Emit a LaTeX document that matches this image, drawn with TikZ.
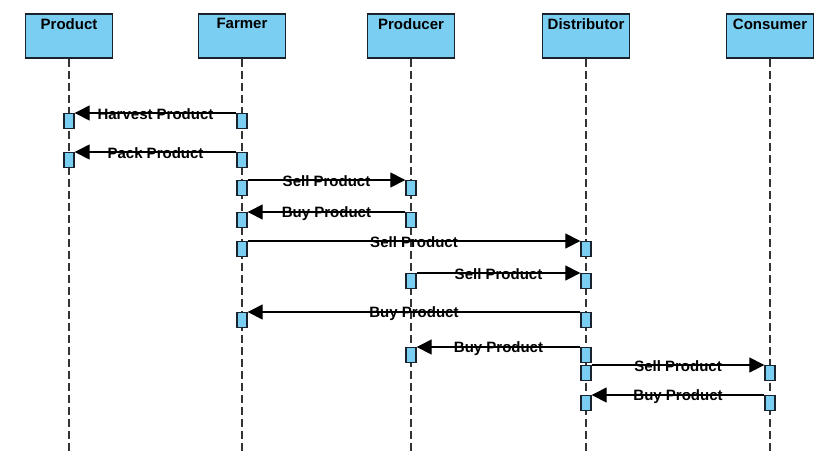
\documentclass[tikz,border=0pt]{standalone}
\usepackage{fontspec}
\setmainfont{Liberation Sans}
\usepackage{xcolor}
\usetikzlibrary{arrows.meta, positioning, calc}

\definecolor{boxblue}{RGB}{122,206,242}
\definecolor{boxline}{RGB}{25,35,45}

\begin{document}
\begin{tikzpicture}[
    x=1pt, y=-1pt,
    head/.style={rectangle, draw=boxline, line width=1.5pt, fill=boxblue, minimum width=87pt, minimum height=44pt, anchor=north, inner sep=0pt},
    headtxt/.style={anchor=north, yshift=-2pt, font=\fontsize{15}{17}\selectfont\bfseries},
    life/.style={dash pattern=on 8pt off 4pt, line width=1.3pt, draw=black!80},
    act/.style={rectangle, draw=boxline, line width=1.3pt, fill=boxblue, minimum width=10pt, minimum height=15pt, anchor=north, inner sep=0pt},
    msg/.style={-{Triangle[length=15pt, width=15pt]}, line width=1.1pt},
    lbl/.style={midway, yshift=-1.5pt, font=\fontsize{15}{17}\selectfont\bfseries, inner sep=0pt}
]
    \useasboundingbox (0,0) rectangle (837,464);

    % lifeline heads
    \node[head, label={[headtxt]north:Product}] (prod) at (69,13) {};
    \node[head, label={[headtxt]north:Farmer}] (farm) at (242,13) {};
    \node[head, label={[headtxt]north:Producer}] (pdcr) at (411,13) {};
    \node[head, label={[headtxt]north:Distributor}] (dist) at (586,13) {};
    \node[head, label={[headtxt]north:Consumer}] (cons) at (770,13) {};

    % lifelines
    \coordinate (prodend) at (69,453);
    \coordinate (farmend) at (242,453);
    \coordinate (pdcrend) at (411,453);
    \coordinate (distend) at (586,453);
    \coordinate (consend) at (770,453);
    \draw[life] (prod.south) -- (prodend);
    \draw[life] (farm.south) -- (farmend);
    \draw[life] (pdcr.south) -- (pdcrend);
    \draw[life] (dist.south) -- (distend);
    \draw[life] (cons.south) -- (consend);

    % activations
    \node[act] (f1) at (242,113) {};
    \node[act] (p1) at (69,113) {};
    \node[act] (f2) at (242,152) {};
    \node[act] (p2) at (69,152) {};
    \node[act] (f3) at (242,180) {};
    \node[act] (r3) at (411,180) {};
    \node[act] (r4) at (411,212) {};
    \node[act] (f4) at (242,212) {};
    \node[act] (f5) at (242,241) {};
    \node[act] (d5) at (586,241) {};
    \node[act] (r6) at (411,273) {};
    \node[act] (d6) at (586,273) {};
    \node[act] (d7) at (586,312) {};
    \node[act] (f7) at (242,312) {};
    \node[act] (d8) at (586,347) {};
    \node[act] (r8) at (411,347) {};
    \node[act] (d9) at (586,365) {};
    \node[act] (c9) at (770,365) {};
    \node[act] (c10) at (770,395) {};
    \node[act] (d10) at (586,395) {};

    % messages
    \draw[msg] (f1.north west) -- (p1.north east) node[lbl] {Harvest Product};
    \draw[msg] (f2.north west) -- (p2.north east) node[lbl] {Pack Product};
    \draw[msg] (f3.north east) -- (r3.north west) node[lbl] {Sell Product};
    \draw[msg] (r4.north west) -- (f4.north east) node[lbl] {Buy Product};
    \draw[msg] (f5.north east) -- (d5.north west) node[lbl] {Sell Product};
    \draw[msg] (r6.north east) -- (d6.north west) node[lbl] {Sell Product};
    \draw[msg] (d7.north west) -- (f7.north east) node[lbl] {Buy Product};
    \draw[msg] (d8.north west) -- (r8.north east) node[lbl] {Buy Product};
    \draw[msg] (d9.north east) -- (c9.north west) node[lbl] {Sell Product};
    \draw[msg] (c10.north west) -- (d10.north east) node[lbl] {Buy Product};
\end{tikzpicture}
\end{document}
